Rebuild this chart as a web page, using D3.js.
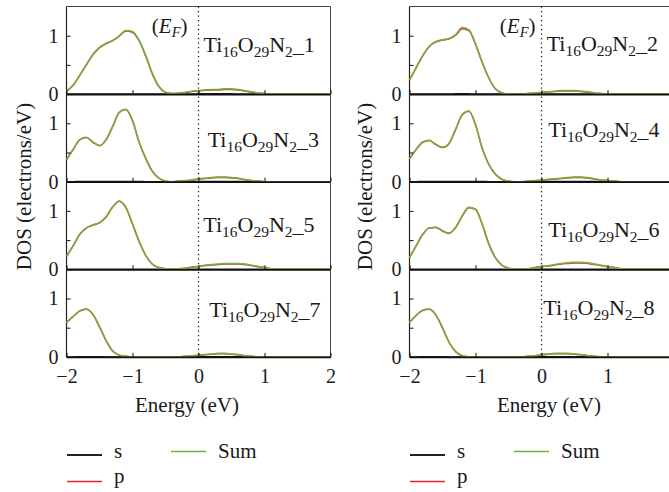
<!DOCTYPE html>
<html><head><meta charset="utf-8">
<script src="https://cdn.jsdelivr.net/npm/d3@7"></script>
<style>body{margin:0;background:#fff}svg{display:block}</style>
</head><body>
<script>
const energy = [-2.0,-1.9,-1.8,-1.7,-1.6,-1.5,-1.4,-1.3,-1.2,-1.1,-1.0,-0.9,-0.8,-0.7,-0.6,-0.5,-0.4,-0.3,-0.2,-0.1,0.0,0.1,0.2,0.3,0.4,0.5,0.6,0.7,0.8,0.9,1.0,1.1,1.2,1.3,1.4,1.5,1.6,1.7,1.8,1.9,2.0];
const panelNames = ["1","2","3","4","5","6","7","8"];
const xTicks = [-2,-1,0,1,2];
const yTicks = [0,0.5,1];
const legendNames = ["s","p","Sum"];

const sum1 = [0.05,0.15,0.32,0.50,0.68,0.80,0.87,0.92,1.00,1.09,1.07,0.92,0.66,0.35,0.13,0.03,0.01,0.02,0.03,0.05,0.06,0.07,0.08,0.08,0.09,0.09,0.08,0.06,0.04,0.02,0.01,0,0,0,0,0,0,0,0,0,0];
const p1   = [0.05,0.15,0.32,0.50,0.675,0.795,0.865,0.915,0.995,1.08,1.06,0.915,0.655,0.35,0.13,0.03,0.01,0.015,0.025,0.045,0.055,0.065,0.072,0.072,0.08,0.08,0.072,0.055,0.035,0.02,0.01,0,0,0,0,0,0,0,0,0,0];
const s1   = [0,0,0,0,0,0.003,0.003,0.003,0.003,0.003,0.003,0.003,0,0,0,0,0,0.003,0.003,0.003,0.004,0.004,0.004,0.004,0.004,0.004,0.003,0.003,0.002,0,0,0,0,0,0,0,0,0,0,0,0];

const sum2 = [0.24,0.45,0.66,0.82,0.90,0.93,0.95,1.02,1.14,1.10,0.86,0.55,0.28,0.09,0.02,0,0,0,0.01,0.02,0.03,0.04,0.05,0.06,0.06,0.06,0.05,0.04,0.02,0.01,0,0,0,0,0,0,0,0,0,0,0];
const p2   = [0.24,0.45,0.655,0.815,0.895,0.925,0.945,1.01,1.12,1.085,0.855,0.545,0.28,0.09,0.02,0,0,0,0.01,0.015,0.025,0.035,0.045,0.055,0.055,0.055,0.045,0.035,0.02,0.01,0,0,0,0,0,0,0,0,0,0,0];
const s2   = [0,0,0.003,0.003,0.003,0.003,0.003,0.004,0.005,0.004,0.003,0.003,0,0,0,0,0,0,0,0.003,0.003,0.003,0.003,0.003,0.003,0.003,0.003,0.003,0,0,0,0,0,0,0,0,0,0,0,0,0];

const sum3 = [0.38,0.55,0.72,0.76,0.68,0.62,0.72,0.95,1.19,1.24,1.05,0.68,0.40,0.18,0.06,0.01,0,0.01,0.02,0.03,0.05,0.06,0.07,0.08,0.08,0.07,0.06,0.04,0.02,0.01,0,0,0,0,0,0,0,0,0,0,0];
const p3   = [0.38,0.55,0.715,0.755,0.675,0.615,0.715,0.945,1.185,1.235,1.045,0.675,0.40,0.18,0.06,0.01,0,0.01,0.015,0.025,0.045,0.055,0.064,0.072,0.072,0.064,0.055,0.035,0.02,0.01,0,0,0,0,0,0,0,0,0,0,0];
const s3   = [0,0,0.003,0.003,0.003,0.003,0.003,0.003,0.003,0.003,0.003,0.003,0,0,0,0,0,0,0.003,0.003,0.003,0.003,0.003,0.003,0.003,0.003,0.003,0.003,0,0,0,0,0,0,0,0,0,0,0,0,0];

const sum4 = [0.39,0.55,0.68,0.71,0.64,0.59,0.66,0.90,1.15,1.21,0.98,0.58,0.30,0.13,0.04,0.01,0,0,0.01,0.02,0.03,0.04,0.05,0.06,0.07,0.08,0.08,0.07,0.05,0.03,0.02,0.01,0,0,0,0,0,0,0,0,0];
const p4   = [0.39,0.55,0.675,0.705,0.635,0.585,0.655,0.895,1.145,1.205,0.975,0.575,0.30,0.13,0.04,0.01,0,0,0.01,0.015,0.025,0.035,0.045,0.055,0.064,0.072,0.072,0.064,0.045,0.03,0.02,0.01,0,0,0,0,0,0,0,0,0];
const s4   = [0,0,0.003,0.003,0.003,0.003,0.003,0.003,0.003,0.003,0.003,0.003,0,0,0,0,0,0,0,0.003,0.003,0.003,0.003,0.003,0.003,0.003,0.003,0.003,0.003,0,0,0,0,0,0,0,0,0,0,0,0];

const sum5 = [0.22,0.40,0.60,0.71,0.76,0.80,0.90,1.07,1.17,1.06,0.78,0.48,0.24,0.09,0.03,0.01,0,0.01,0.02,0.04,0.05,0.07,0.08,0.09,0.10,0.10,0.10,0.09,0.07,0.05,0.03,0.01,0,0,0,0,0,0,0,0,0];
const p5   = [0.22,0.40,0.595,0.705,0.755,0.795,0.895,1.065,1.165,1.055,0.775,0.475,0.24,0.09,0.03,0.01,0,0.01,0.015,0.035,0.045,0.064,0.072,0.082,0.092,0.092,0.092,0.082,0.064,0.045,0.03,0.01,0,0,0,0,0,0,0,0,0];
const s5   = [0,0,0.003,0.003,0.003,0.003,0.003,0.003,0.003,0.003,0.003,0.003,0,0,0,0,0,0,0.003,0.003,0.003,0.003,0.003,0.003,0.003,0.003,0.003,0.003,0.003,0.003,0,0,0,0,0,0,0,0,0,0,0];

const sum6 = [0.20,0.40,0.60,0.71,0.72,0.66,0.62,0.72,0.92,1.06,1.03,0.78,0.44,0.20,0.07,0.02,0,0,0.01,0.03,0.05,0.06,0.08,0.10,0.11,0.12,0.12,0.11,0.09,0.07,0.05,0.03,0.01,0,0,0,0,0,0,0,0];
const p6   = [0.20,0.40,0.595,0.705,0.715,0.655,0.615,0.715,0.915,1.055,1.025,0.775,0.44,0.20,0.07,0.02,0,0,0.01,0.025,0.045,0.055,0.072,0.092,0.10,0.11,0.11,0.10,0.082,0.064,0.045,0.03,0.01,0,0,0,0,0,0,0,0];
const s6   = [0,0,0.003,0.003,0.003,0.003,0.003,0.003,0.003,0.003,0.003,0.003,0,0,0,0,0,0,0,0.003,0.003,0.003,0.003,0.003,0.003,0.003,0.003,0.003,0.003,0.003,0.003,0,0,0,0,0,0,0,0,0,0];

const sum7 = [0.59,0.69,0.79,0.82,0.73,0.52,0.28,0.10,0.03,0.01,0,0,0,0,0,0,0,0,0.01,0.02,0.03,0.04,0.05,0.06,0.06,0.05,0.04,0.02,0.01,0,0,0,0,0,0,0,0,0,0,0,0];
const p7   = [0.59,0.69,0.785,0.815,0.725,0.515,0.28,0.10,0.03,0.01,0,0,0,0,0,0,0,0,0.01,0.015,0.025,0.035,0.045,0.055,0.055,0.045,0.035,0.02,0.01,0,0,0,0,0,0,0,0,0,0,0,0];
const s7   = [0,0,0.003,0.003,0.003,0.003,0,0,0,0,0,0,0,0,0,0,0,0,0,0.003,0.003,0.003,0.003,0.003,0.003,0.003,0.003,0,0,0,0,0,0,0,0,0,0,0,0,0,0];

const sum8 = [0.59,0.71,0.80,0.82,0.72,0.50,0.25,0.09,0.02,0,0,0,0,0,0,0,0,0,0.01,0.02,0.04,0.05,0.06,0.06,0.06,0.05,0.04,0.02,0.01,0,0,0,0,0,0,0,0,0,0,0,0];
const p8   = [0.59,0.71,0.795,0.815,0.715,0.495,0.25,0.09,0.02,0,0,0,0,0,0,0,0,0,0.01,0.015,0.035,0.045,0.055,0.055,0.055,0.045,0.035,0.02,0.01,0,0,0,0,0,0,0,0,0,0,0,0];
const s8   = [0,0,0.003,0.003,0.003,0.003,0,0,0,0,0,0,0,0,0,0,0,0,0,0.003,0.003,0.003,0.003,0.003,0.003,0.003,0.003,0,0,0,0,0,0,0,0,0,0,0,0,0,0];

const sumSeries = [sum1,sum2,sum3,sum4,sum5,sum6,sum7,sum8];
const pSeries = [p1,p2,p3,p4,p5,p6,p7,p8];
const sSeries = [s1,s2,s3,s4,s5,s6,s7,s8];

// ---------- layout ----------
const W = 669, H = 492;
const FONT = '"Liberation Serif","Times New Roman",Times,"Noto Serif","DejaVu Serif",serif';
const cols = [{x0:66.5, x1:330.5}, {x0:409.5, x1:673.5}];
const top0 = 6.5, ph = 87.6;
const labelOff = [[137,45.5],[137.2,44.2],[141.2,52.6],[138.8,42.6],[136.8,50],[138.8,55],[142.8,48],[133.8,45.7]];
const colors = {s:"#1a1a1a", p:"#e8262b", sum:"#72b043"};

const svg = d3.select("body").append("svg").attr("width",W).attr("height",H)
  .style("font-family",FONT);

function txt(sel){ return sel.attr("font-family",FONT).style("font-family",FONT).attr("fill","#1a1a1a"); }

cols.forEach((c,ci) => {
  const x = d3.scaleLinear().domain([-2,2]).range([c.x0,c.x1]);
  for (let row=0; row<4; row++) {
    const i = row*2+ci;
    const yTop = top0 + row*ph, yBot = top0 + (row+1)*ph;
    const y = d3.scaleLinear().domain([0,1.5]).range([yBot,yTop]);
    const g = svg.append("g");
    g.append("line").attr("x1",c.x0).attr("x2",c.x0).attr("y1",yTop).attr("y2",yBot).attr("stroke","#222").attr("stroke-width",1.2);
    g.append("line").attr("x1",c.x1).attr("x2",c.x1).attr("y1",yTop).attr("y2",yBot).attr("stroke","#444").attr("stroke-width",1);
    if (row===0) g.append("line").attr("x1",c.x0).attr("x2",c.x1).attr("y1",yTop).attr("y2",yTop).attr("stroke","#444").attr("stroke-width",1);
    const mk = arr => d3.line().x((d,k)=>x(energy[k])).y(d=>y(d)).curve(d3.curveMonotoneX)(arr);
    g.append("path").attr("d",mk(sSeries[i])).attr("fill","none").attr("stroke",colors.s).attr("stroke-width",1.5);
    g.append("path").attr("d",mk(pSeries[i])).attr("fill","none").attr("stroke",colors.p).attr("stroke-width",1.5);
    g.append("path").attr("d",mk(sumSeries[i])).attr("fill","none").attr("stroke",colors.sum).attr("stroke-width",1.6);
    const ax = g.append("g").attr("transform",`translate(0,${yBot})`)
      .call(d3.axisBottom(x).tickValues(xTicks).tickSizeInner(-4).tickSizeOuter(0).tickPadding(12)
        .tickFormat(row===3 ? (d => d<0 ? "\u2212"+Math.abs(d) : String(d)) : ""));
    ax.attr("font-family",null).attr("font-size",null);
    ax.select(".domain").attr("stroke","#111").attr("stroke-width",1.8);
    ax.selectAll(".tick line").attr("stroke","#111");
    txt(ax.selectAll(".tick text")).style("font-size","20px");
    const ay = g.append("g").attr("transform",`translate(${c.x0},0)`)
      .call(d3.axisLeft(y).tickValues(yTicks).tickSizeInner(-4).tickSizeOuter(0).tickPadding(8)
        .tickFormat(d => d===0.5 ? "" : String(d)));
    ay.attr("font-family",null).attr("font-size",null);
    ay.select(".domain").remove();
    ay.selectAll(".tick line").attr("stroke","#111");
    txt(ay.selectAll(".tick text")).style("font-size","20px");
    const t = txt(g.append("text")).attr("x",c.x0+labelOff[i][0]).attr("y",yTop+labelOff[i][1]).style("font-size","22px");
    t.append("tspan").text("Ti");
    t.append("tspan").attr("dy",5).style("font-size","15.5px").text("16");
    t.append("tspan").attr("dy",-5).text("O");
    t.append("tspan").attr("dy",5).style("font-size","15.5px").text("29");
    t.append("tspan").attr("dy",-5).text("N");
    t.append("tspan").attr("dy",5).style("font-size","15.5px").text("2");
    t.append("tspan").attr("dy",-5).text("_"+panelNames[i]);
  }
  svg.append("line").attr("x1",x(0)).attr("x2",x(0)).attr("y1",top0).attr("y2",top0+4*ph)
    .attr("stroke","#111").attr("stroke-width",1.2).attr("stroke-dasharray","1.3,3.2");
  const ef = txt(svg.append("text")).attr("x", ci===0 ? 187.5 : 535.5).attr("y",33).attr("text-anchor","end").style("font-size","21px");
  ef.append("tspan").text("(");
  ef.append("tspan").style("font-style","italic").text("E");
  ef.append("tspan").attr("dy",4).style("font-style","italic").style("font-size","14.5px").text("F");
  ef.append("tspan").attr("dy",-4).text(")");
  txt(svg.append("text")).attr("transform",`translate(${ci===0?31:372},186.5) rotate(-90)`).attr("text-anchor","middle")
    .style("font-size","21px").text("DOS (electrons/eV)");
  txt(svg.append("text")).attr("x", ci===0 ? 187 : 549).attr("y",412).attr("text-anchor","middle").style("font-size","21px").text("Energy (eV)");
  const lx = ci===0 ? 67 : 410;
  const leg = [
    {name:legendNames[0], col:"#222", x:lx, ly:455, ty:458, w:2},
    {name:legendNames[1], col:colors.p, x:lx, ly:481.5, ty:483, w:1.5},
    {name:legendNames[2], col:colors.sum, x:lx+104, ly:451.5, ty:458, w:1.5}
  ];
  leg.forEach(L => {
    svg.append("line").attr("x1",L.x).attr("x2",L.x+35).attr("y1",L.ly).attr("y2",L.ly).attr("stroke",L.col).attr("stroke-width",L.w);
    txt(svg.append("text")).attr("x",L.x+47).attr("y",L.ty).style("font-size","21px").text(L.name);
  });
});
</script>
</body></html>
